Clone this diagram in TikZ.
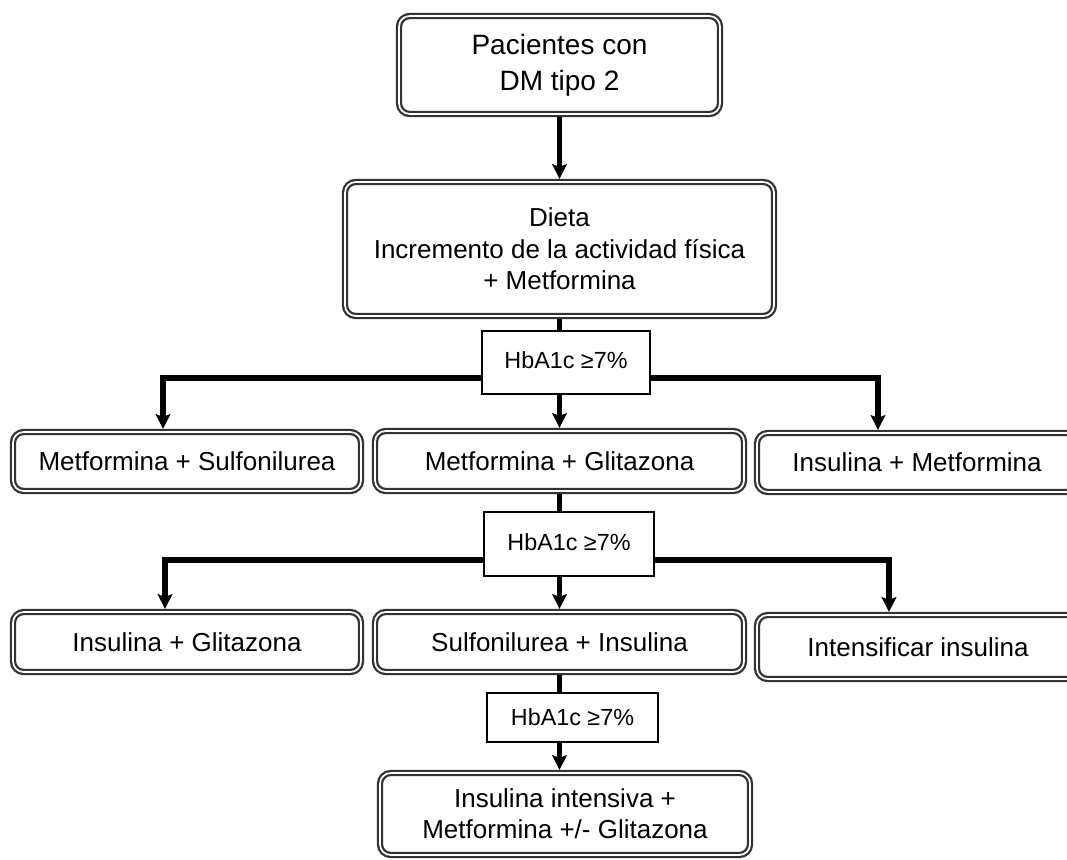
\documentclass[tikz,border=0pt]{standalone}
\usepackage{fontspec}
\setmainfont{Liberation Sans}
\usetikzlibrary{arrows.meta}

\begin{document}
\begin{tikzpicture}[
    x=0.75pt, y=-0.75pt,
    box/.style={draw=black!80, double=white, line width=1.7pt, double distance=1.3pt,
        rounded corners=8pt, fill=white, align=center, inner sep=0pt, outer sep=2.35pt,
        font=\fontsize{19.5}{23.5}\selectfont},
    testbox/.style={draw=black, line width=1.3pt, fill=white, inner sep=0pt,
        font=\fontsize{17.5}{21}\selectfont},
    link/.style={line width=4.25pt, black},
    arrow/.style={-{Stealth[length=11pt, width=11pt, inset=2pt]}, line width=4.25pt, black}
]

\useasboundingbox (0,0) rectangle (1067,860);

% Define coordinates for the branch columns
\coordinate (b1l) at (163,378);
\coordinate (b1r) at (878,378);
\coordinate (b2l) at (165,560);
\coordinate (b2r) at (889,560);

% Main boxes
\node[box, minimum width=240.75pt, minimum height=73.5pt, font=\fontsize{21}{27}\selectfont] (pac) at (559.5,65) {Pacientes con\\DM tipo 2};
\node[box, minimum width=321.75pt, minimum height=100.5pt] (dieta) at (559.5,249) {Dieta\\Incremento de la actividad física\\+ Metformina};

% First choice row
\node[box, minimum width=261pt, minimum height=44.25pt] (ms) at (187,461.5) {Metformina + Sulfonilurea};
\node[box, minimum width=276.75pt, minimum height=45pt] (mg) at (559.5,461) {Metformina + Glitazona};
\node[box, minimum width=240pt, minimum height=44.25pt] (im) at (917,462.5) {Insulina + Metformina};

% Second choice row
\node[box, minimum width=261pt, minimum height=45pt] (ig) at (187,642) {Insulina + Glitazona};
\node[box, minimum width=276.75pt, minimum height=45pt] (si) at (559.5,642) {Sulfonilurea + Insulina};
\node[box, minimum width=241.5pt, minimum height=48pt] (ii) at (918,647) {Intensificar insulina};

% Last box
\node[box, minimum width=277.5pt, minimum height=61.5pt] (fin) at (565,814) {Insulina intensiva +\\Metformina +/- Glitazona};

% Draw the vertical trunk
\draw[arrow] (pac) -- (dieta);
\draw[link] (dieta.south) -- (dieta.south |- 0,331);
\draw[arrow] (mg.north |- 0,394) -- (mg.north);
\draw[link] (mg.south) -- (mg.south |- 0,512);
\draw[arrow] (si.north |- 0,576) -- (si.north);
\draw[link] (si.south) -- (si.south |- 0,693);
\draw[arrow] (si.south |- 0,742) -- (si.south |- fin.north);

% Draw the branches
\draw[arrow] (559,378) -| (b1l |- ms.north);
\draw[arrow] (559,378) -| (b1r |- im.north);
\draw[arrow] (559,560) -| (b2l |- ig.north);
\draw[arrow] (559,560) -| (b2r |- ii.north);

% Test boxes on top of the lines
\node[testbox, minimum width=126pt, minimum height=47.25pt] (h1) at (566,362.5) {\raisebox{3pt}{HbA1c ≥7\%}};
\node[testbox, minimum width=127.5pt, minimum height=48pt] (h2) at (569,544) {\raisebox{3pt}{HbA1c ≥7\%}};
\node[testbox, minimum width=128.25pt, minimum height=36.75pt] (h3) at (572.5,717.5) {HbA1c ≥7\%};

\end{tikzpicture}
\end{document}
